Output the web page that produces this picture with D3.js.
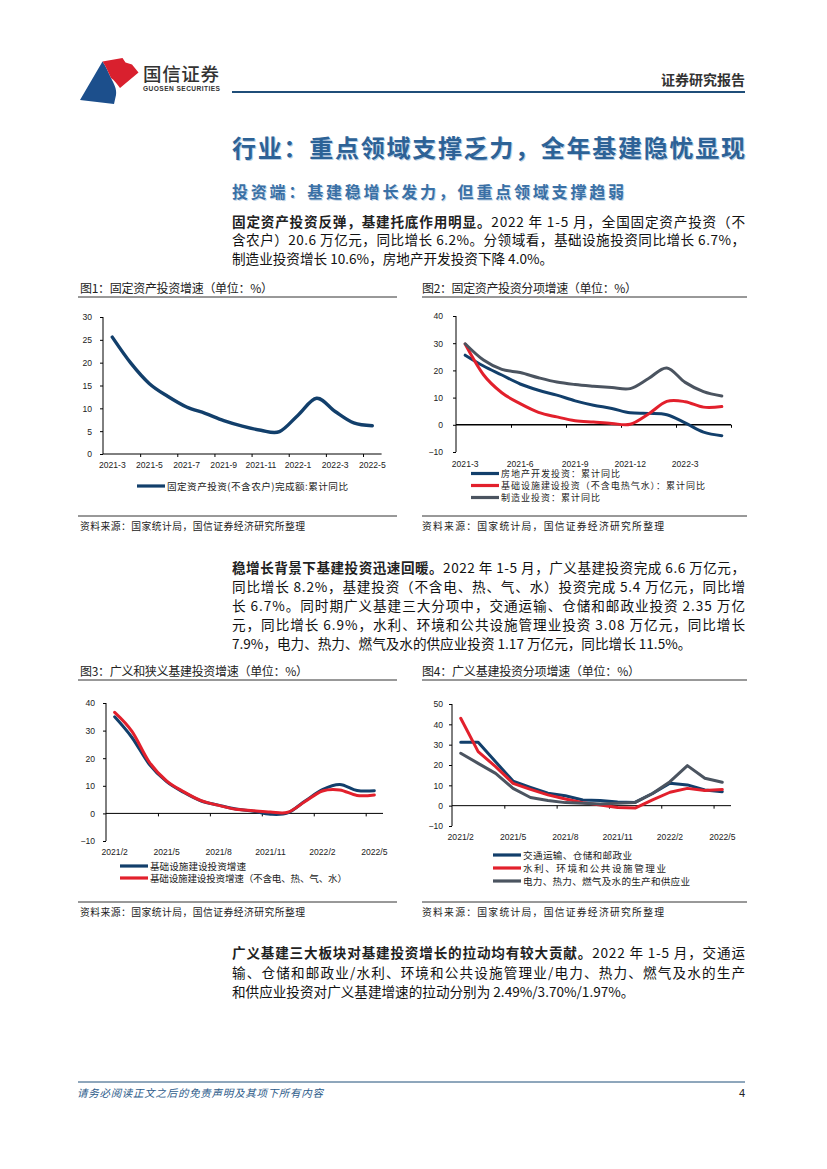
<!DOCTYPE html>
<html><head><meta charset="utf-8">
<script src="https://cdn.jsdelivr.net/npm/d3@7"></script>
<style>
html,body{margin:0;padding:0;background:#fff;}
svg{display:block;}
text{font-family:"Noto Sans CJK SC","Liberation Sans",sans-serif;}
.num{font-family:"Liberation Sans","Noto Sans CJK SC",sans-serif;}
</style></head><body>
<script>
// ---------------- DATA ----------------
const months1 = ["2021-3","2021-4","2021-5","2021-6","2021-7","2021-8","2021-9","2021-10","2021-11","2021-12","2022-1","2022-2","2022-3","2022-4","2022-5"];
const labels1 = ["2021-3","2021-5","2021-7","2021-9","2021-11","2022-1","2022-3","2022-5"];
const yTicks1 = [0,5,10,15,20,25,30];
const faiGrowth = [25.6,19.9,15.4,12.6,10.3,8.9,7.3,6.1,5.2,4.9,8.5,12.2,9.3,6.8,6.2];

const labels2 = ["2021-3","2021-6","2021-9","2021-12","2022-3"];
const yTicks2 = [-10,0,10,20,30,40];
const realEstate = [25.6,21.6,18.3,15.0,12.7,10.9,8.8,7.2,6.0,4.4,4.2,3.7,0.7,-2.7,-4.0];
const infraExUtil = [29.7,18.4,11.8,7.8,4.6,2.9,1.5,1.0,0.5,0.2,4.0,8.6,8.5,6.5,6.7];
const manufacturing = [29.8,23.8,20.4,19.2,17.3,15.7,14.8,14.2,13.7,13.3,17.0,20.9,15.6,12.2,10.6];

const months3 = ["2021/2","2021/3","2021/4","2021/5","2021/6","2021/7","2021/8","2021/9","2021/10","2021/11","2021/12","2022/1","2022/2","2022/3","2022/4","2022/5"];
const labels3 = ["2021/2","2021/5","2021/8","2021/11","2022/2","2022/5"];
const yTicks3 = [-10,0,10,20,30,40];
const infraBroad = [35.0,27.5,17.8,11.5,7.6,4.5,3.0,1.6,0.8,-0.3,0.2,4.5,8.6,10.5,8.3,8.2];
const infraNarrow = [36.6,29.7,18.6,11.8,7.8,4.6,2.9,1.5,1.0,0.5,0.4,4.3,8.1,8.5,6.5,6.7];

const yTicks4 = [-10,0,10,20,30,40,50];
const transport = [31.2,31.2,21.6,12.1,9.0,6.1,4.9,2.8,2.5,1.8,1.6,6.0,11.0,10.2,7.7,6.9];
const waterEnv = [43.0,26.6,19.2,11.0,8.0,5.3,3.3,1.5,0.3,-0.9,-1.2,2.8,6.6,8.5,7.5,7.9];
const utilities = [25.8,20.8,15.9,8.5,4.0,2.5,1.5,1.2,0.8,1.2,1.6,6.0,11.8,19.7,13.5,11.5];

const seriesNames1 = ["固定资产投资(不含农户)完成额:累计同比"];
const seriesNames2 = ["房地产开发投资：累计同比","基础设施建设投资（不含电热气水）：累计同比","制造业投资：累计同比"];
const seriesNames3 = ["基础设施建设投资增速","基础设施建设投资增速（不含电、热、气、水）"];
const seriesNames4 = ["交通运输、仓储和邮政业","水利、环境和公共设施管理业","电力、热力、燃气及水的生产和供应业"];

const chartTitles = ["图1：固定资产投资增速（单位：%）","图2：固定资产投资分项增速（单位：%）","图3：广义和狭义基建投资增速（单位：%）","图4：广义基建投资分项增速（单位：%）"];
const sourceText = "资料来源：国家统计局，国信证券经济研究所整理";

const para1 = [
  [["固定资产投资反弹，基建托底作用明显。",1],["2022 年 1-5 月，全国固定资产投资（不",0]],
  [["含农户）20.6 万亿元，同比增长 6.2%。分领域看，基础设施投资同比增长 6.7%，",0]],
  [["制造业投资增长 10.6%，房地产开发投资下降 4.0%。",0]]
];
const para2 = [
  [["稳增长背景下基建投资迅速回暖。",1],["2022 年 1-5 月，广义基建投资完成 6.6 万亿元，",0]],
  [["同比增长 8.2%，基建投资（不含电、热、气、水）投资完成 5.4 万亿元，同比增",0]],
  [["长 6.7%。同时期广义基建三大分项中，交通运输、仓储和邮政业投资 2.35 万亿",0]],
  [["元，同比增长 6.9%，水利、环境和公共设施管理业投资 3.08 万亿元，同比增长",0]],
  [["7.9%，电力、热力、燃气及水的供应业投资 1.17 万亿元，同比增长 11.5%。",0]]
];
const para3 = [
  [["广义基建三大板块对基建投资增长的拉动均有较大贡献。",1],["2022 年 1-5 月，交通运",0]],
  [["输、仓储和邮政业/水利、环境和公共设施管理业/电力、热力、燃气及水的生产",0]],
  [["和供应业投资对广义基建增速的拉动分别为 2.49%/3.70%/1.97%。",0]]
];

// ---------------- COLORS ----------------
const NAVY = "#123f6b", RED = "#e2202c", GRAY = "#4b5460";

// ---------------- PAGE ----------------
const svg = d3.select("body").append("svg").attr("width",827).attr("height",1169);

function fit(sel, target){
  const node = sel.node();
  const nat = node.getComputedTextLength();
  const n = node.textContent.length;
  if (n > 1) sel.attr("letter-spacing", (target - nat)/(n-1));
  return sel;
}

// header logo
const logo = svg.append("g");
logo.append("path").attr("fill","#1c4f8c")
  .attr("d","M80,100 L102.5,61.5 C106,66 108,72 111,78 C114,84 117,89 116,95 L114,104 Z");
logo.append("path").attr("fill","#d9202e")
  .attr("d","M102.5,61.5 L122.5,58 L125.5,62.5 L132,64.5 L138.5,72.5 L120,88 C117,84 114,80 111,78 C108,72 106,66 102.5,61.5 Z");
svg.append("text").attr("x",143).attr("y",73).attr("dominant-baseline","central")
  .attr("font-size",18.5).attr("font-weight",500).attr("fill","#333").text("国信证券").call(s=>fit(s,76));
svg.append("text").attr("class","num").attr("x",143).attr("y",88.5).attr("dominant-baseline","central")
  .attr("font-size",6.6).attr("font-weight",700).attr("fill","#333").text("GUOSEN SECURITIES").call(s=>fit(s,77));
svg.append("text").attr("x",745).attr("y",79).attr("dominant-baseline","central").attr("text-anchor","end")
  .attr("font-size",14).attr("font-weight",700).attr("fill","#333").text("证券研究报告");
svg.append("line").attr("x1",232).attr("x2",745).attr("y1",92).attr("y2",92).attr("stroke","#1f4e79").attr("stroke-width",2.2);

// titles
const t1 = "行业：重点领域支撑乏力，全年基建隐忧显现";
svg.append("text").attr("x",233).attr("y",147).attr("dominant-baseline","central")
  .attr("font-size",24).attr("font-weight",700).attr("fill","#b9cfe4").text(t1).call(s=>fit(s,513));
svg.append("text").attr("x",232).attr("y",146).attr("dominant-baseline","central")
  .attr("font-size",24).attr("font-weight",700).attr("fill","#2d6296").text(t1).call(s=>fit(s,513));
const t2 = "投资端：基建稳增长发力，但重点领域支撑趋弱";
svg.append("text").attr("x",233).attr("y",192).attr("dominant-baseline","central")
  .attr("font-size",16).attr("font-weight",700).attr("fill","#c4d6e8").text(t2).call(s=>fit(s,392));
svg.append("text").attr("x",232).attr("y",191).attr("dominant-baseline","central")
  .attr("font-size",16).attr("font-weight",700).attr("fill","#3a70a5").text(t2).call(s=>fit(s,392));

function paragraph(lines, ys){
  lines.forEach((parts,i)=>{
    const t = svg.append("text").attr("x",232).attr("y",ys[i]).attr("dominant-baseline","central")
      .attr("font-size",13.6).attr("fill","#111");
    parts.forEach(p=>{
      t.append("tspan").attr("font-weight",p[1]?700:400).attr("fill",p[1]?"#222":"#111").text(p[0]);
    });
    if (i < lines.length-1) fit(t,513);
  });
}
paragraph(para1,[220.5,239,257.5]);
paragraph(para2,[567,586,605,624,642.5]);
paragraph(para3,[952,971.5,990.5]);

// footer
svg.append("line").attr("x1",78).attr("x2",745).attr("y1",1082).attr("y2",1082).attr("stroke","#1f4e79").attr("stroke-width",1);
svg.append("text").attr("x",77).attr("y",1092.5).attr("dominant-baseline","central").attr("font-size",10.5)
  .attr("font-style","italic").attr("fill","#2c5b8a").text("请务必阅读正文之后的免责声明及其项下所有内容").call(s=>fit(s,246));
svg.append("text").attr("class","num").attr("x",745).attr("y",1092.5).attr("dominant-baseline","central")
  .attr("text-anchor","end").attr("font-size",11).attr("fill","#222").text("4");

// ---------------- CHART FUNCTION ----------------
function chart(c){
  const g = svg.append("g");
  g.append("text").attr("x",c.tx).attr("y",c.titleY).attr("dominant-baseline","central")
    .attr("font-size",12).attr("fill","#222").text(c.title).call(s=>fit(s,c.titleW));
  g.append("line").attr("x1",c.rx0).attr("x2",c.rx1).attr("y1",c.titleY+10).attr("y2",c.titleY+10)
    .attr("stroke","#333").attr("stroke-width",1);
  g.append("line").attr("x1",c.rx0).attr("x2",c.rx1).attr("y1",c.srcY-10).attr("y2",c.srcY-10)
    .attr("stroke","#333").attr("stroke-width",1);
  g.append("text").attr("x",c.tx).attr("y",c.srcY).attr("dominant-baseline","central")
    .attr("font-size",9.8).attr("fill","#222").text(sourceText).call(s=>fit(s,c.srcW));

  const x = d3.scaleBand().domain(c.cats).range([c.x0,c.x1]).padding(0);
  const bw = x.bandwidth();
  const cx = d => x(d) + bw/2;
  const y = d3.scaleLinear().domain([c.yMin,c.yMax]).range([c.yBot,c.yTop]);
  const idx = d3.scaleLinear().domain([0,c.cats.length]).range([c.x0,c.x1]);

  const ya = g.append("g").attr("transform",`translate(${c.x0},0)`)
    .call(d3.axisLeft(y).tickValues(c.yTicks).tickSize(3).tickPadding(c.yPad));
  ya.select(".domain").attr("stroke","#000").attr("stroke-width",1).attr("d",`M0,${c.yBot}V${c.yTop}`);
  ya.selectAll(".tick line").attr("stroke","#000");
  ya.selectAll(".tick text").attr("class","num").attr("font-size",8.6).attr("fill","#222").attr("dy","0.34em");

  const xa = g.append("g").attr("transform",`translate(0,${y(0)})`)
    .call(d3.axisBottom(idx).tickValues(d3.range(c.tickEvery, c.cats.length+1, c.tickEvery)).tickSize(3).tickFormat(""));
  xa.select(".domain").attr("stroke","#000").attr("stroke-width",c.zeroW).attr("d",`M${c.x0},0H${c.x1}`);
  xa.selectAll(".tick line").attr("stroke","#000");

  const xl = g.append("g").attr("transform",`translate(0,${c.labelY})`)
    .call(d3.axisBottom(x).tickValues(c.labels).tickSize(0).tickPadding(0));
  xl.select(".domain").remove();
  xl.selectAll(".tick text").attr("class","num").attr("font-size",8.6).attr("fill","#222").attr("y",0).attr("dy","0.35em");

  const line = d3.line().x((d,i)=>cx(c.cats[i])).y(d=>y(d)).curve(c.curve);
  c.series.forEach(s=>{
    g.append("path").datum(s.values).attr("fill","none").attr("stroke",s.color)
      .attr("stroke-width",c.lw).attr("stroke-linejoin","round").attr("stroke-linecap","round").attr("d",line);
  });

  c.series.forEach((s,i)=>{
    const ly = c.legY[i];
    g.append("line").attr("x1",c.legX).attr("x2",c.legX+28).attr("y1",ly).attr("y2",ly)
      .attr("stroke",s.color).attr("stroke-width",3.2);
    g.append("text").attr("x",c.legX+30).attr("y",ly).attr("dominant-baseline","central")
      .attr("font-size",c.legFs||9.6).attr("fill","#222").text(s.name).call(t=>fit(t,s.legW));
  });
}

const smooth = d3.curveCatmullRom.alpha(0);

chart({title:chartTitles[0], tx:80, titleY:287, titleW:193, rx0:78, rx1:397, srcY:526, srcW:225,
  cats:months1, labels:labels1, tickEvery:2, x0:103, x1:381.6, yMin:0, yMax:30, yTop:317, yBot:454,
  yTicks:yTicks1, yPad:8, zeroW:1, labelY:465, curve:smooth, lw:3.4,
  series:[{values:faiGrowth,color:NAVY,name:seriesNames1[0],legW:181}],
  legX:137, legY:[486]});

chart({title:chartTitles[1], tx:422, titleY:287, titleW:215, rx0:422, rx1:747, srcY:526, srcW:242,
  cats:months1, labels:labels2, tickEvery:3, x0:456, x1:731, yMin:-10, yMax:40, yTop:316, yBot:452,
  yTicks:yTicks2, yPad:10, zeroW:1.6, labelY:464, curve:smooth, lw:3, legFs:9,
  series:[{values:realEstate,color:NAVY,name:seriesNames2[0],legW:119},
          {values:infraExUtil,color:RED,name:seriesNames2[1],legW:204},
          {values:manufacturing,color:GRAY,name:seriesNames2[2],legW:99}],
  legX:471, legY:[473.5,485.5,497.5]});

chart({title:chartTitles[2], tx:80, titleY:670, titleW:228, rx0:78, rx1:397, srcY:912, srcW:225,
  cats:months3, labels:labels3, tickEvery:3, x0:106, x1:383, yMin:-10, yMax:40, yTop:703, yBot:841,
  yTicks:yTicks3, yPad:8, zeroW:1, labelY:852, curve:smooth, lw:3,
  series:[{values:infraBroad,color:NAVY,name:seriesNames3[0],legW:96},
          {values:infraNarrow,color:RED,name:seriesNames3[1],legW:197}],
  legX:120, legY:[866,878]});

chart({title:chartTitles[3], tx:422, titleY:670, titleW:218, rx0:422, rx1:747, srcY:912, srcW:242,
  cats:months3, labels:labels3, tickEvery:3, x0:452, x1:731, yMin:-10, yMax:50, yTop:704, yBot:826,
  yTicks:yTicks4, yPad:6, zeroW:1, labelY:837, curve:d3.curveLinear, lw:3,
  series:[{values:transport,color:NAVY,name:seriesNames4[0],legW:109},
          {values:waterEnv,color:RED,name:seriesNames4[1],legW:143},
          {values:utilities,color:GRAY,name:seriesNames4[2],legW:167}],
  legX:493, legY:[855,868,881]});
</script>
</body></html>
